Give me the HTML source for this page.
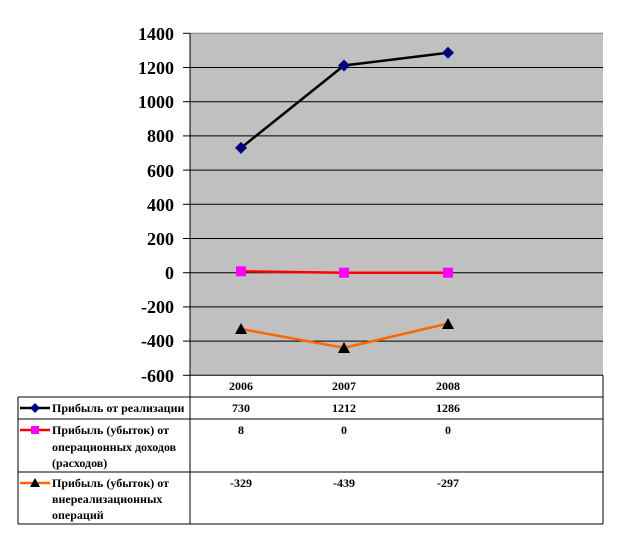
<!DOCTYPE html>
<html><head><meta charset="utf-8"><style>
body{margin:0;background:#fff}
svg text{font-family:"Liberation Serif",serif}
</style></head><body>
<svg width="623" height="535" viewBox="0 0 623 535" xmlns="http://www.w3.org/2000/svg">
<rect x="190" y="33.3" width="413" height="342" fill="#c0c0c0"/>
<g stroke="#000" stroke-width="1">
<line x1="190" x2="603" y1="67.5" y2="67.5"/>
<line x1="190" x2="603" y1="101.7" y2="101.7"/>
<line x1="190" x2="603" y1="135.9" y2="135.9"/>
<line x1="190" x2="603" y1="170.1" y2="170.1"/>
<line x1="190" x2="603" y1="204.3" y2="204.3"/>
<line x1="190" x2="603" y1="238.5" y2="238.5"/>
<line x1="190" x2="603" y1="272.7" y2="272.7"/>
<line x1="190" x2="603" y1="306.9" y2="306.9"/>
<line x1="190" x2="603" y1="341.1" y2="341.1"/>
</g>
<line x1="190" x2="603" y1="33.3" y2="33.3" stroke="#808080"/>
<line x1="190" x2="190" y1="33.3" y2="524" stroke="#000"/>
<g stroke="#000">
<line x1="183" x2="190" y1="33.3" y2="33.3"/><line x1="183" x2="190" y1="67.5" y2="67.5"/><line x1="183" x2="190" y1="101.7" y2="101.7"/><line x1="183" x2="190" y1="135.9" y2="135.9"/><line x1="183" x2="190" y1="170.1" y2="170.1"/><line x1="183" x2="190" y1="204.3" y2="204.3"/><line x1="183" x2="190" y1="238.5" y2="238.5"/><line x1="183" x2="190" y1="272.7" y2="272.7"/><line x1="183" x2="190" y1="306.9" y2="306.9"/><line x1="183" x2="190" y1="341.1" y2="341.1"/><line x1="183" x2="190" y1="375.3" y2="375.3"/>
</g>
<g font-size="18" font-weight="bold" text-anchor="end">
<text x="174" y="40">1400</text><text x="174" y="74">1200</text><text x="174" y="108">1000</text><text x="174" y="142">800</text><text x="174" y="177">600</text><text x="174" y="211">400</text><text x="174" y="245">200</text><text x="174" y="279">0</text><text x="174" y="313">-200</text><text x="174" y="347">-400</text><text x="174" y="382">-600</text>
</g>
<polyline points="241,147.9 344,65.5 448,52.8" fill="none" stroke="#000" stroke-width="2.5"/>
<g fill="#000080">
<polygon points="241,141.9 247,147.9 241,153.9 235,147.9"/>
<polygon points="344,59.5 350,65.5 344,71.5 338,65.5"/>
<polygon points="448,46.8 454,52.8 448,58.8 442,52.8"/>
</g>
<polyline points="241,271.3 344,272.7 448,272.7" fill="none" stroke="#ff0000" stroke-width="2.5"/>
<g fill="#ff00ff"><rect x="236" y="266.3" width="10" height="10"/><rect x="339" y="267.7" width="10" height="10"/><rect x="443" y="267.7" width="10" height="10"/></g>
<polyline points="241,329 344,347.8 448,323.5" fill="none" stroke="#ff6600" stroke-width="2.5"/>
<g fill="#000"><polygon points="241,323 247,334 235,334"/><polygon points="344,342 350,353 338,353"/><polygon points="448,318 454,329 442,329"/></g>
<g stroke="#000" fill="none">
<line x1="190" x2="603" y1="375.3" y2="375.3"/>
<line x1="603" x2="603" y1="375.3" y2="524"/>
<line x1="18" x2="603" y1="397" y2="397"/>
<line x1="18" x2="603" y1="419" y2="419"/>
<line x1="18" x2="603" y1="472" y2="472"/>
<line x1="18" x2="603" y1="524" y2="524"/>
<line x1="18" x2="18" y1="397" y2="524"/>
</g>
<g font-size="12" font-weight="bold" text-anchor="middle">
<text x="241" y="390">2006</text><text x="344" y="390">2007</text><text x="448" y="390">2008</text>
<text x="241" y="412">730</text><text x="344" y="412">1212</text><text x="448" y="412">1286</text>
<text x="241" y="434">8</text><text x="344" y="434">0</text><text x="448" y="434">0</text>
<text x="241" y="487">-329</text><text x="344" y="487">-439</text><text x="448" y="487">-297</text>
</g>
<line x1="20" x2="50" y1="408" y2="408" stroke="#000" stroke-width="2.5"/>
<polygon points="35,403 40,408 35,413 30,408" fill="#000080"/>
<line x1="20" x2="50" y1="430" y2="430" stroke="#ff0000" stroke-width="2.5"/>
<rect x="31" y="426" width="8" height="8" fill="#ff00ff"/>
<line x1="20" x2="50" y1="483" y2="483" stroke="#ff6600" stroke-width="2.5"/>
<polygon points="35,478 40,487 30,487" fill="#000"/>
<g font-size="12" font-weight="bold">
<text x="52" y="412">Прибыль от реализации</text>
<text x="52" y="434">Прибыль (убыток) от</text>
<text x="52" y="451">операционных доходов</text>
<text x="52" y="467">(расходов)</text>
<text x="52" y="487">Прибыль (убыток) от</text>
<text x="52" y="503">внереализационных</text>
<text x="52" y="519">операций</text>
</g>
</svg>
</body></html>
